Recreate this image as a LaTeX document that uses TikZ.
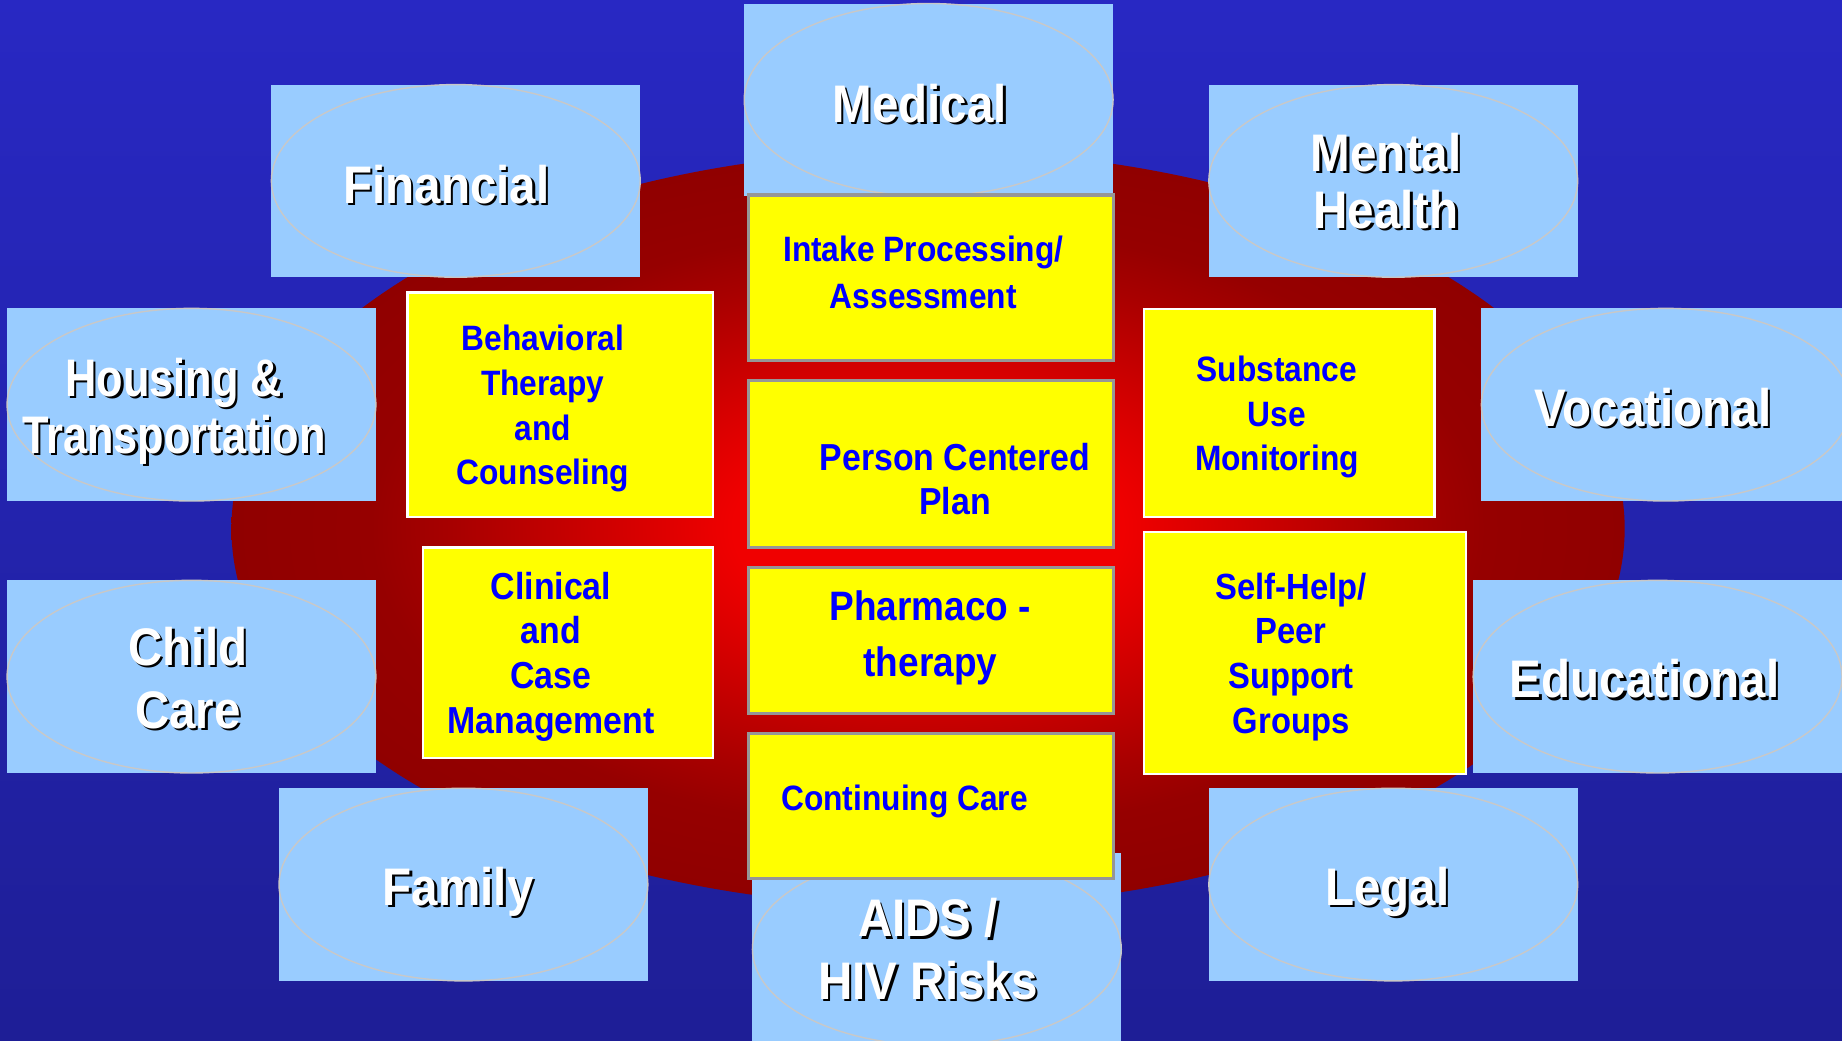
\documentclass[tikz,border=0pt]{standalone}
\usepackage{fontspec}
\usetikzlibrary{shapes.geometric}
\newfontfamily\slidefont[FakeStretch=0.9]{Liberation Sans}
\newfontfamily\slidenarrow[FakeStretch=0.82]{Liberation Sans}
\definecolor{bgtop}{RGB}{40,40,195}
\definecolor{bgmid}{RGB}{51,51,250}
\definecolor{bgbot}{RGB}{30,30,150}
\definecolor{glowred}{RGB}{240,0,0}
\definecolor{warmred}{RGB}{168,0,0}
\definecolor{rimred}{RGB}{150,0,0}
\definecolor{deepred}{RGB}{144,0,0}
\definecolor{areablue}{RGB}{153,204,255}
\definecolor{ovalgray}{RGB}{200,200,200}
\definecolor{taskyellow}{RGB}{255,255,0}
\definecolor{taskblue}{RGB}{0,0,255}
\definecolor{edgegray}{RGB}{150,150,150}
\pgfdeclareradialshading{redglow}{\pgfpoint{0bp}{0bp}}{color(0bp)=(glowred); color(7bp)=(glowred); color(17bp)=(warmred); color(20bp)=(rimred); color(25bp)=(deepred); color(50bp)=(deepred)}
\tikzset{
areabox/.style={fill=areablue, inner sep=0pt, minimum width=157pt, minimum height=82pt},
areaoval/.style={ellipse, draw=ovalgray, line width=0.6pt, inner sep=0pt, minimum width=157pt, minimum height=82pt},
areatext/.style={text=white, align=center, font=\slidefont\bfseries\fontsize{22.5}{24.5}\selectfont},
taskbox/.style={fill=taskyellow, draw=edgegray, line width=1.3pt, inner sep=0pt},
sidebox/.style={taskbox, draw=white, line width=1pt},
tasktext/.style={text=taskblue, align=center, font=\slidefont\bfseries\fontsize{15}{19}\selectfont}
}
% white label with a dark drop shadow
\newcommand\arealabel[4][]{%
  \node[areatext, #1, text=black, xshift=1pt, yshift=-1pt] (#2s) at (#3) {#4};
  \node[areatext, #1] (#2) at (#3) {#4};}

\begin{document}
\begin{tikzpicture}[x=0.5pt, y=-0.5pt]
\useasboundingbox (0,0) rectangle (1568,886);
\shade[top color=bgtop, middle color=bgmid, bottom color=bgbot] (0,0) rectangle (1568,886);
\shade[shading=redglow] (790,450) ellipse [x radius=593, y radius=322];

% outer ring of service areas
\node[areabox] (medical) at (790.5,85) {};
\node[areaoval] (medicaloval) at (medical) {};
\arealabel{medicallbl}{783,88}{Medical}
\node[areabox] (financial) at (388,154) {};
\node[areaoval] (financialoval) at (financial) {};
\arealabel{financiallbl}{380,157}{Financial}
\node[areabox] (mental) at (1186,154) {};
\node[areaoval] (mentaloval) at (mental) {};
\arealabel{mentallbl}{1180,154}{Mental\\Health}
\node[areabox] (housing) at (163,344.5) {};
\node[areaoval] (housingoval) at (housing) {};
\arealabel[font=\slidenarrow\bfseries\fontsize{22.5}{24.5}\selectfont]{housinglbl}{148,350}{Housing \&\\Transportation}
\node[areabox] (vocational) at (1418,344.5) {};
\node[areaoval] (vocationaloval) at (vocational) {};
\arealabel{vocationallbl}{1407,347}{Vocational}
\node[areabox] (childcare) at (163,576) {};
\node[areaoval] (childcareoval) at (childcare) {};
\arealabel[font=\slidefont\bfseries\fontsize{22.5}{27}\selectfont]{childcarelbl}{160,577}{Child\\Care}
\node[areabox] (educational) at (1411,576) {};
\node[areaoval] (educationaloval) at (educational) {};
\arealabel{educationallbl}{1400,578}{Educational}
\node[areabox] (family) at (394.5,753) {};
\node[areaoval] (familyoval) at (family) {};
\arealabel{familylbl}{390,759}{Family}
\node[areabox] (legal) at (1186,753) {};
\node[areaoval] (legaloval) at (legal) {};
\arealabel{legallbl}{1181,759}{Legal}
\node[areabox] (aids) at (797.5,808) {};
\node[areaoval] (aidsoval) at (aids) {};
\arealabel[font=\slidefont\bfseries\fontsize{22.5}{26.5}\selectfont]{aidslbl}{790,808}{AIDS /\\HIV Risks}

% core treatment blocks
\node[taskbox, minimum width=155.5pt, minimum height=70.5pt] (intake) at (792.5,236.5) {};
\node[tasktext, font=\slidefont\bfseries\fontsize{15}{20}\selectfont] (intaketxt) at (786,232) {Intake Processing/\\Assessment};
\node[taskbox, minimum width=155.5pt, minimum height=71pt] (person) at (792.5,395) {};
\node[tasktext, font=\slidefont\bfseries\fontsize{16}{18.5}\selectfont] (persontxt) at (813,408) {Person Centered\\Plan};
\node[taskbox, minimum width=155.5pt, minimum height=62pt] (pharma) at (792.5,545) {};
\node[tasktext, font=\slidefont\bfseries\fontsize{17.5}{23.5}\selectfont] (pharmatxt) at (792,543) {Pharmaco -\\therapy};
\node[taskbox, minimum width=155.5pt, minimum height=62pt] (continuing) at (792.5,686) {};
\node[tasktext] (continuingtxt) at (770,682) {Continuing Care};

\node[sidebox, minimum width=130pt, minimum height=95.5pt] (behavioral) at (477,344.5) {};
\node[tasktext] (behavioraltxt) at (462,348) {Behavioral\\Therapy\\and\\Counseling};
\node[sidebox, minimum width=123.5pt, minimum height=89.5pt] (clinical) at (483.5,555.5) {};
\node[tasktext, font=\slidefont\bfseries\fontsize{16}{19}\selectfont] (clinicaltxt) at (469,559) {Clinical\\and\\Case\\Management};
\node[sidebox, minimum width=123.5pt, minimum height=88.5pt] (substance) at (1097.5,351.5) {};
\node[tasktext] (substancetxt) at (1087,355) {Substance\\Use\\Monitoring};
\node[sidebox, minimum width=137pt, minimum height=103pt] (selfhelp) at (1111,556) {};
\node[tasktext, font=\slidefont\bfseries\fontsize{15.5}{19}\selectfont] (selfhelptxt) at (1099,559) {Self-Help/\\Peer\\Support\\Groups};
\end{tikzpicture}
\end{document}
